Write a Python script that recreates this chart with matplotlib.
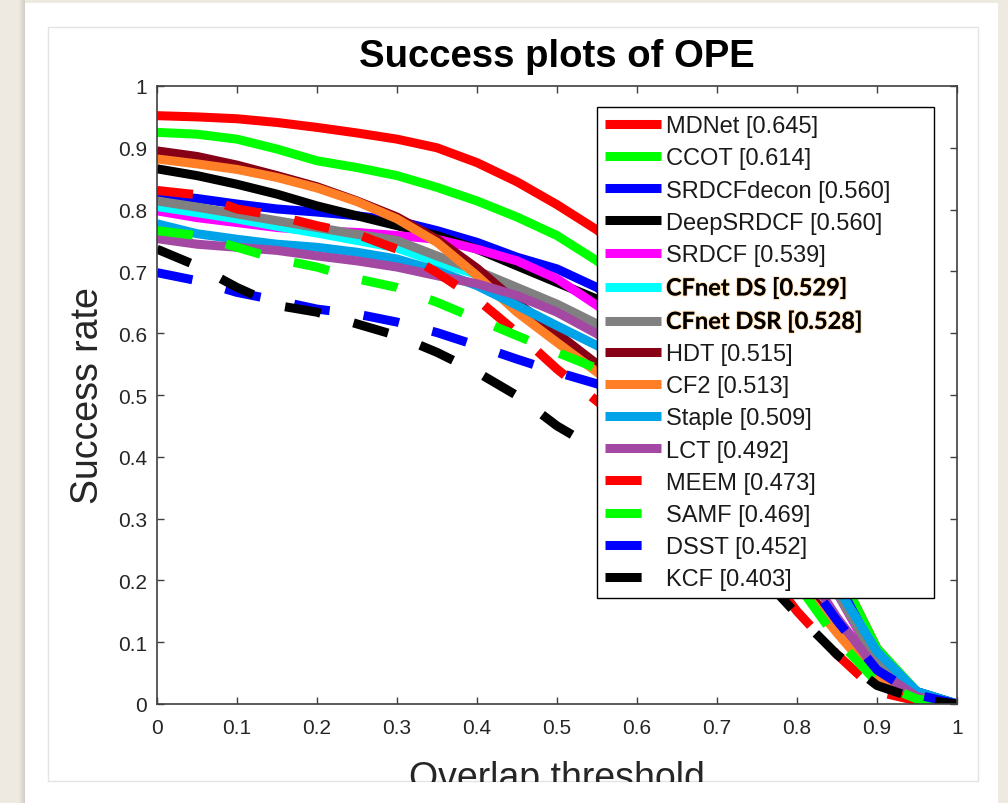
import matplotlib
matplotlib.use("Agg")
import matplotlib.pyplot as plt
import matplotlib.patheffects as pe
from matplotlib.patches import Rectangle
from matplotlib.transforms import Bbox, TransformedBbox

# thresholds used by the OPE success plot
thresholds = [0.00, 0.05, 0.10, 0.15, 0.20, 0.25, 0.30, 0.35, 0.40, 0.45, 0.50,
              0.55, 0.60, 0.65, 0.70, 0.75, 0.80, 0.85, 0.90, 0.95, 1.00]

# success rate per tracker
mdnet = [0.952, 0.950, 0.947, 0.941, 0.933, 0.924, 0.914, 0.900, 0.876, 0.845, 0.808,
         0.767, 0.715, 0.650, 0.570, 0.470, 0.350, 0.220, 0.090, 0.018, 0.0]
ccot = [0.925, 0.922, 0.914, 0.898, 0.879, 0.868, 0.855, 0.836, 0.814, 0.788, 0.758,
        0.717, 0.670, 0.610, 0.540, 0.450, 0.340, 0.220, 0.090, 0.020, 0.0]
srdcfdecon = [0.825, 0.818, 0.809, 0.801, 0.796, 0.790, 0.782, 0.766, 0.747, 0.723, 0.704,
              0.674, 0.630, 0.575, 0.505, 0.420, 0.320, 0.200, 0.075, 0.020, 0.0]
deepsrdcf = [0.866, 0.855, 0.841, 0.825, 0.806, 0.790, 0.774, 0.758, 0.736, 0.709, 0.682,
             0.655, 0.615, 0.560, 0.490, 0.405, 0.300, 0.190, 0.070, 0.015, 0.0]
srdcf = [0.798, 0.787, 0.779, 0.771, 0.766, 0.763, 0.758, 0.752, 0.736, 0.717, 0.688,
         0.645, 0.600, 0.545, 0.475, 0.395, 0.295, 0.180, 0.065, 0.015, 0.0]
cfnet_ds = [0.805, 0.795, 0.785, 0.773, 0.762, 0.750, 0.738, 0.715, 0.695, 0.668, 0.640,
            0.605, 0.565, 0.515, 0.455, 0.380, 0.290, 0.185, 0.075, 0.015, 0.0]
cfnet_dsr = [0.814, 0.804, 0.793, 0.782, 0.771, 0.760, 0.750, 0.725, 0.701, 0.674, 0.647,
             0.615, 0.575, 0.525, 0.460, 0.385, 0.290, 0.180, 0.070, 0.015, 0.0]
hdt = [0.895, 0.886, 0.872, 0.855, 0.837, 0.814, 0.788, 0.752, 0.705, 0.650, 0.600,
       0.550, 0.495, 0.435, 0.365, 0.290, 0.205, 0.120, 0.045, 0.010, 0.0]
cf2 = [0.882, 0.874, 0.865, 0.852, 0.835, 0.813, 0.785, 0.747, 0.693, 0.634, 0.585,
       0.537, 0.485, 0.425, 0.355, 0.280, 0.195, 0.115, 0.040, 0.010, 0.0]
staple = [0.777, 0.761, 0.752, 0.744, 0.739, 0.731, 0.720, 0.701, 0.677, 0.645, 0.612,
          0.580, 0.545, 0.500, 0.445, 0.375, 0.290, 0.190, 0.085, 0.020, 0.0]
lct = [0.753, 0.744, 0.739, 0.734, 0.725, 0.717, 0.707, 0.693, 0.680, 0.661, 0.634,
       0.599, 0.550, 0.490, 0.415, 0.335, 0.240, 0.140, 0.055, 0.012, 0.0]
meem = [0.831, 0.824, 0.801, 0.790, 0.774, 0.760, 0.736, 0.698, 0.655, 0.601, 0.542,
        0.490, 0.435, 0.375, 0.310, 0.235, 0.150, 0.080, 0.020, 0.005, 0.0]
samf = [0.766, 0.758, 0.739, 0.720, 0.707, 0.688, 0.674, 0.650, 0.623, 0.596, 0.569,
        0.543, 0.500, 0.445, 0.375, 0.290, 0.195, 0.105, 0.035, 0.008, 0.0]
dsst = [0.698, 0.685, 0.666, 0.653, 0.639, 0.631, 0.618, 0.601, 0.580, 0.558, 0.537,
        0.518, 0.490, 0.445, 0.385, 0.310, 0.225, 0.135, 0.055, 0.015, 0.0]
kcf = [0.736, 0.709, 0.674, 0.645, 0.634, 0.615, 0.596, 0.569, 0.537, 0.499, 0.450,
       0.412, 0.370, 0.325, 0.275, 0.215, 0.145, 0.080, 0.030, 0.008, 0.0]

labels = ["MDNet [0.645]", "CCOT [0.614]", "SRDCFdecon [0.560]", "DeepSRDCF [0.560]",
          "SRDCF [0.539]", "CFnet DS [0.529]", "CFnet DSR [0.528]", "HDT [0.515]",
          "CF2 [0.513]", "Staple [0.509]", "LCT [0.492]", "MEEM [0.473]",
          "SAMF [0.469]", "DSST [0.452]", "KCF [0.403]"]
curves = [mdnet, ccot, srdcfdecon, deepsrdcf, srdcf, cfnet_ds, cfnet_dsr, hdt,
          cf2, staple, lct, meem, samf, dsst, kcf]

tick_vals = [0, 0.1, 0.2, 0.3, 0.4, 0.5, 0.6, 0.7, 0.8, 0.9, 1]
tick_text = ["0", "0.1", "0.2", "0.3", "0.4", "0.5", "0.6", "0.7", "0.8", "0.9", "1"]

# OTB toolkit draw styles
colors = ["#ff0000", "#00ff00", "#0000ff", "#000000", "#ff00ff", "#00ffff", "#808080",
          "#880015", "#ff7f27", "#00a2e8", "#a349a4",
          "#ff0000", "#00ff00", "#0000ff", "#000000"]
styles = ["-"] * 11 + ["--"] * 4

plt.rcParams["font.family"] = ["Liberation Sans", "DejaVu Sans"]

W, H = 1008, 804
fig = plt.figure(figsize=(W / 100, H / 100), dpi=100, facecolor="#eeeae2")

# white card with a soft shadow on the left
for i, a in enumerate([0.04, 0.07, 0.10, 0.14, 0.18, 0.22]):
    fig.add_artist(Rectangle(((19 + i) / W, 0), 1 / W, 1, transform=fig.transFigure,
                             fc="#707070", ec="none", alpha=a, zorder=-12))
fig.add_artist(Rectangle((25 / W, 0), (998 - 25) / W, (H - 4) / H,
                         transform=fig.transFigure, fc="white", ec="none", zorder=-11))
fig.add_artist(Rectangle((48 / W, 1 - 782 / H), (978 - 48) / W, (782 - 28) / H,
                         transform=fig.transFigure, fill=False, ec="#e4e4e4",
                         lw=1, zorder=-10))

ax = fig.add_axes([157 / W, 1 - 705 / H, 800 / W, 618 / H])

for y, lab, c, ls in zip(curves, labels, colors, styles):
    if ls == "-":
        ax.plot(thresholds, y, color=c, lw=6.5, label=lab,
                solid_capstyle="butt", solid_joinstyle="round")
    else:
        ax.plot(thresholds, y, color=c, lw=6.5, label=lab,
                dashes=(4.0, 3.8), dash_capstyle="butt")

ax.set_xlim(0, 1)
ax.set_ylim(0, 1)
ax.set_xticks(tick_vals)
ax.set_xticklabels(tick_text)
ax.set_yticks(tick_vals)
ax.set_yticklabels(tick_text)
ax.tick_params(direction="in", length=5, width=1, top=True, right=True,
               labelsize=15, colors="#404040", labelcolor="#262626")
ax.tick_params(axis="x", pad=10)
ax.tick_params(axis="y", pad=7)
for sp in ax.spines.values():
    sp.set_color("#404040")
    sp.set_linewidth(1.2)

leg = ax.legend(loc="upper left", bbox_to_anchor=(0.55, 0.175, 0.421, 0.791),
                mode="expand", borderaxespad=0, fontsize=17, labelspacing=0.43,
                handlelength=2.37, handletextpad=0.2, borderpad=0.35,
                fancybox=False, framealpha=1, edgecolor="black")
leg.get_frame().set_linewidth(1.0)
for t in leg.get_texts():
    t.set_color("#1a1a1a")
for t in leg.get_texts()[5:7]:
    t.set_fontfamily(["Lato", "DejaVu Sans"])
    t.set_fontweight("bold")
    t.set_color("black")
    t.set_path_effects([pe.withStroke(linewidth=1.5, foreground=(1.0, 0.65, 0.2, 0.35))])

fig.text(557 / W, 1 - 57 / H, "Success plots of OPE", ha="center", va="center",
         fontsize=27.5, fontweight="bold", color="black")
fig.text(88 / W, 1 - 396 / H, "Success rate", ha="center", va="center",
         rotation=90, fontsize=27, color="#262626")
xl = fig.text(557 / W, 1 - 789 / H, "Overlap threshold", ha="center", va="baseline",
              fontsize=27, color="#262626")
xl.set_clip_box(TransformedBbox(Bbox([[0, 1 - 783 / H], [1, 1]]), fig.transFigure))
xl.set_clip_on(True)

fig.savefig("out.png", dpi=100, facecolor=fig.get_facecolor())
